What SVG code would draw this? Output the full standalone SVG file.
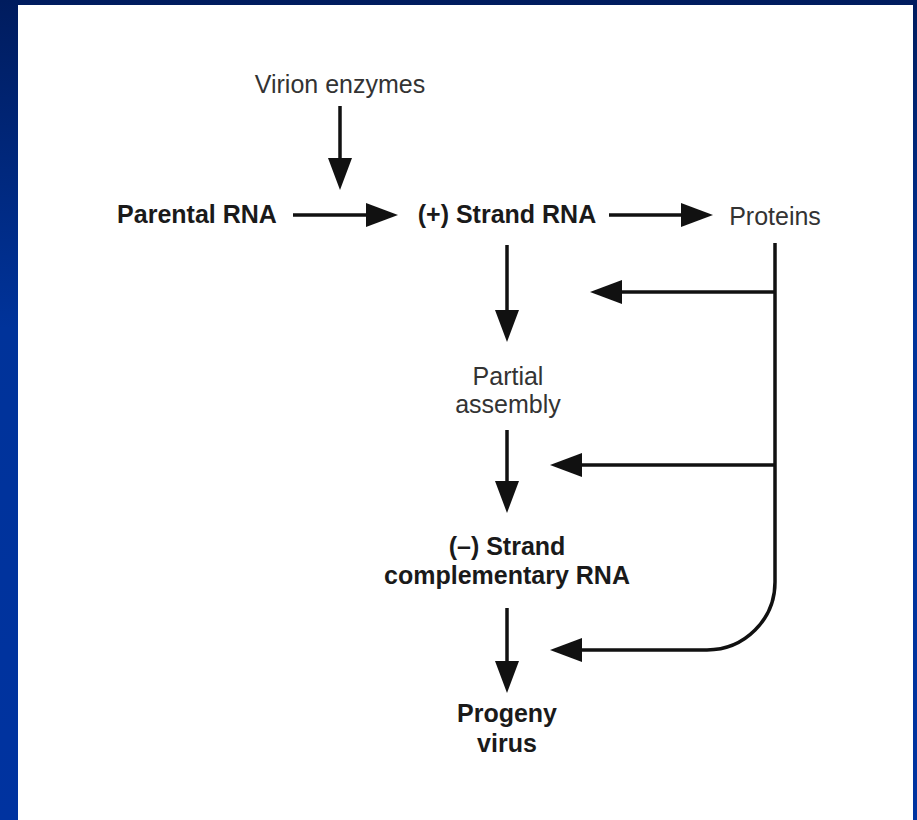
<svg xmlns="http://www.w3.org/2000/svg" width="917" height="820" viewBox="0 0 917 820">
<defs>
<linearGradient id="bg" x1="0" y1="0" x2="0" y2="1">
<stop offset="0" stop-color="#001c5e"/>
<stop offset="0.4" stop-color="#00339a"/>
<stop offset="1" stop-color="#0033a0"/>
</linearGradient>
<marker id="ah" viewBox="0 0 32 24" refX="12" refY="12" markerWidth="32" markerHeight="24" markerUnits="userSpaceOnUse" orient="auto">
<path d="M0,0 L32,12 L0,24 Z" fill="#111"/>
</marker>
<style>
.t{font-family:"Liberation Sans",Arial,sans-serif;font-size:25px;text-anchor:middle}
.b{font-weight:bold;fill:#1a1a1a}
.n{fill:#333}
.c{fill:none;stroke:#111;stroke-width:3.5}
</style>
</defs>
<rect x="0" y="0" width="917" height="820" fill="url(#bg)"/>
<rect x="18" y="5" width="895" height="815" fill="#ffffff"/>
<g id="virion"><text class="t n" x="340" y="93">Virion enzymes</text></g>
<g id="parental"><text class="t b" x="197" y="223">Parental RNA</text></g>
<g id="plus"><text class="t b" x="507" y="223">(+) Strand RNA</text></g>
<g id="proteins"><text class="t n" x="775" y="225">Proteins</text></g>
<g id="partial"><text class="t n" x="508" y="385">Partial</text><text class="t n" x="508" y="413">assembly</text></g>
<g id="minus"><text class="t b" x="507" y="555">(–) Strand</text><text class="t b" x="507" y="584">complementary RNA</text></g>
<g id="progeny"><text class="t b" x="507" y="722">Progeny</text><text class="t b" x="507" y="752">virus</text></g>
<g id="connectors">
<path class="c" d="M340,106 V170" marker-end="url(#ah)"/>
<path class="c" d="M293,215 H378" marker-end="url(#ah)"/>
<path class="c" d="M609,215 H693" marker-end="url(#ah)"/>
<path class="c" d="M507,245 V322" marker-end="url(#ah)"/>
<path class="c" d="M507,430 V493" marker-end="url(#ah)"/>
<path class="c" d="M507,608 V673" marker-end="url(#ah)"/>
<path class="c" d="M775,243 V582 A68,68 0 0 1 707,650 H570" marker-end="url(#ah)"/>
<path class="c" d="M775,292 H610" marker-end="url(#ah)"/>
<path class="c" d="M775,465 H570" marker-end="url(#ah)"/>
</g>
</svg>
